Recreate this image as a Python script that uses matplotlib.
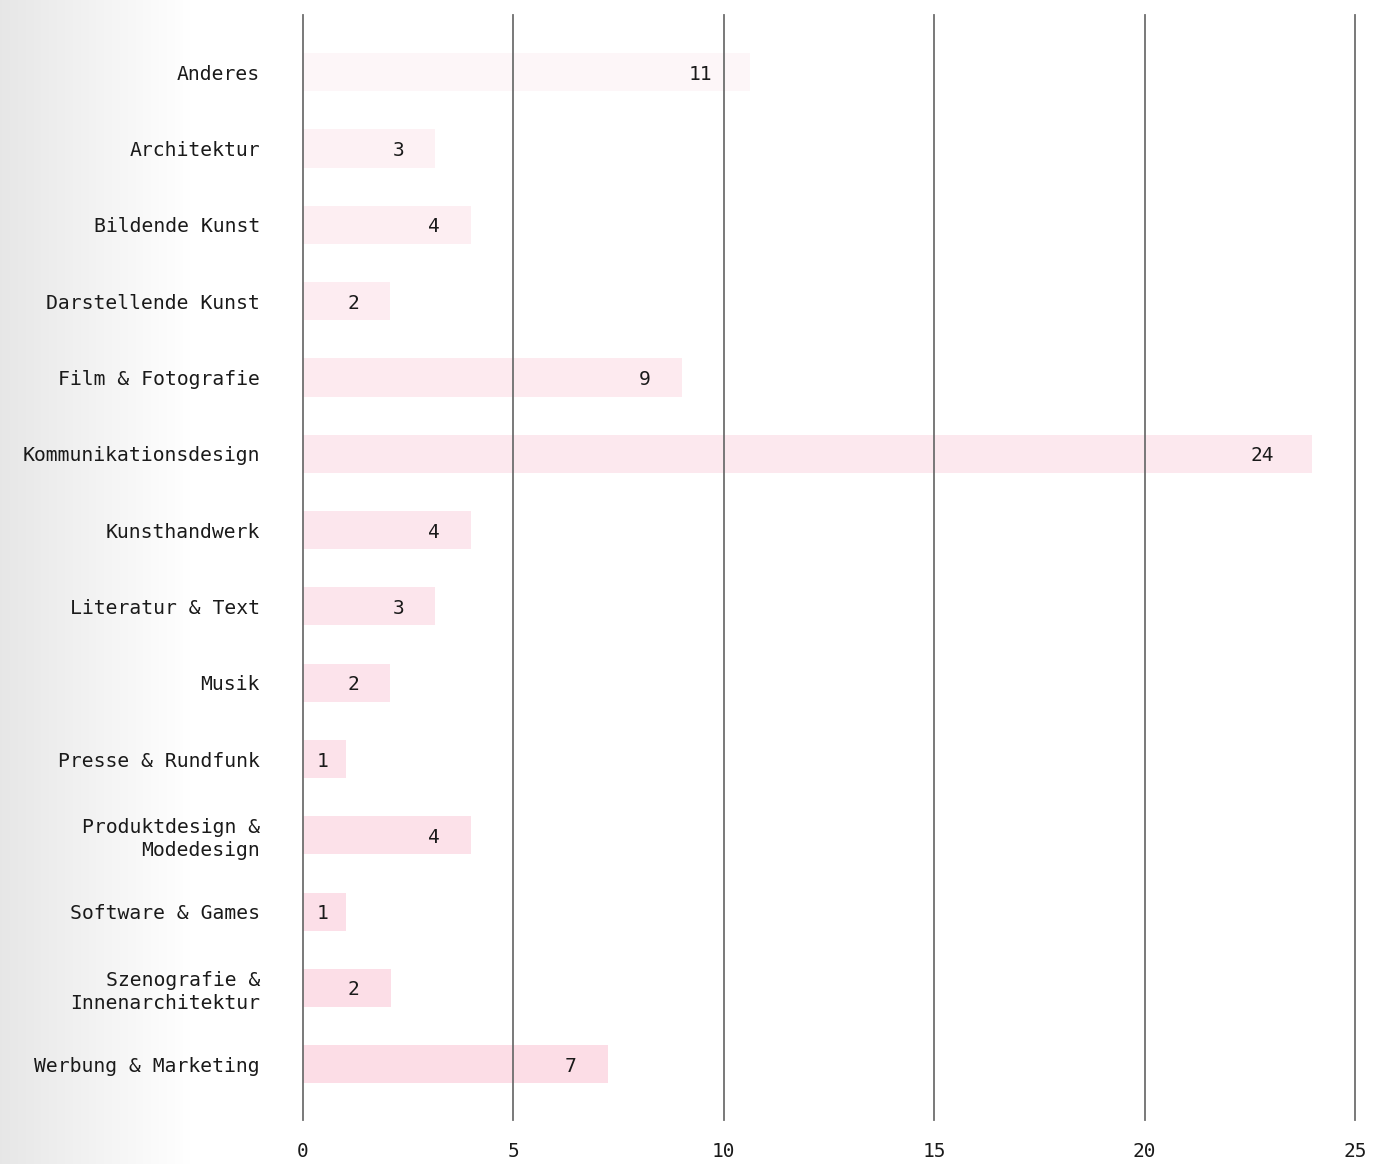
import numpy as np
import matplotlib
matplotlib.use("Agg")
import matplotlib.pyplot as plt
from matplotlib.colors import to_rgb

categories = [
    "Anderes", "Architektur", "Bildende Kunst", "Darstellende Kunst",
    "Film & Fotografie", "Kommunikationsdesign", "Kunsthandwerk",
    "Literatur & Text", "Musik", "Presse & Rundfunk",
    "Produktdesign &\nModedesign", "Software & Games",
    "Szenografie &\nInnenarchitektur", "Werbung & Marketing",
]
values = [10.63, 3.14, 3.99, 2.07, 9.0, 23.99, 3.99, 3.14, 2.07, 1.02, 3.99, 1.01, 2.08, 7.24]
value_labels = ["11", "3", "4", "2", "9", "24", "4", "3", "2", "1", "4", "1", "2", "7"]
xticks = [0, 5, 10, 15, 20, 25]

plt.rcParams['font.family'] = ['DejaVu Sans Mono']

W, H, DPI = 1376, 1164, 100
fig = plt.figure(figsize=(W / DPI, H / DPI), dpi=DPI)

# left gradient background
bg = fig.add_axes([0, 0, 1, 1], zorder=-10)
grad = np.ones((2, W, 3))
xs = np.arange(W)
t = np.clip(xs / 190.0, 0, 1)
g0 = 0.905
val = g0 + (1 - g0) * t
for k in range(3):
    grad[:, :, k] = val
bg.imshow(grad, aspect='auto', extent=[0, 1, 0, 1])
bg.axis('off')

ax = fig.add_axes([303 / W, 1 - 1120 / H, (1355 - 303) / W, (1120 - 15) / H])
ax.patch.set_alpha(0)

n = len(categories)
y = np.arange(n)
c_top = np.array(to_rgb("#fdf6f8"))
c_bot = np.array(to_rgb("#fcdde6"))
colors = [tuple(c_top + (c_bot - c_top) * (i / (n - 1)) ** 0.6) for i in range(n)]

ax.barh(y, values, height=0.5, color=colors, zorder=1)
for xv in xticks:
    ax.axvline(xv, color="#6e6e6e", lw=1.3, zorder=2, clip_on=False)

px = 25.0 / (1355 - 303)  # data units per pixel
for yi, v, lab in zip(y, values, value_labels):
    off = 31 if len(lab) == 1 else 38
    xr = max(v - off * px, 25 * px)
    ax.annotate(lab, xy=(xr, yi), xytext=(0, -2), textcoords='offset pixels',
                ha='right', va='center', fontsize=14, color="#1a1a1a", zorder=3)

ax.set_xlim(0, 25)
ax.set_ylim(n - 1 + 0.73, -0.75)
ax.set_yticks(y)
ax.set_yticklabels(categories, fontsize=14.2, color="#1a1a1a", ha='right', linespacing=1.25)
ax.set_xticks(xticks)
ax.set_xticklabels([str(v) for v in xticks], fontsize=14, color="#1a1a1a")
ax.tick_params(axis='y', length=0, pad=31)
ax.tick_params(axis='x', length=0, pad=16)
for s in ax.spines.values():
    s.set_visible(False)

fig.savefig("out.png", dpi=DPI)
